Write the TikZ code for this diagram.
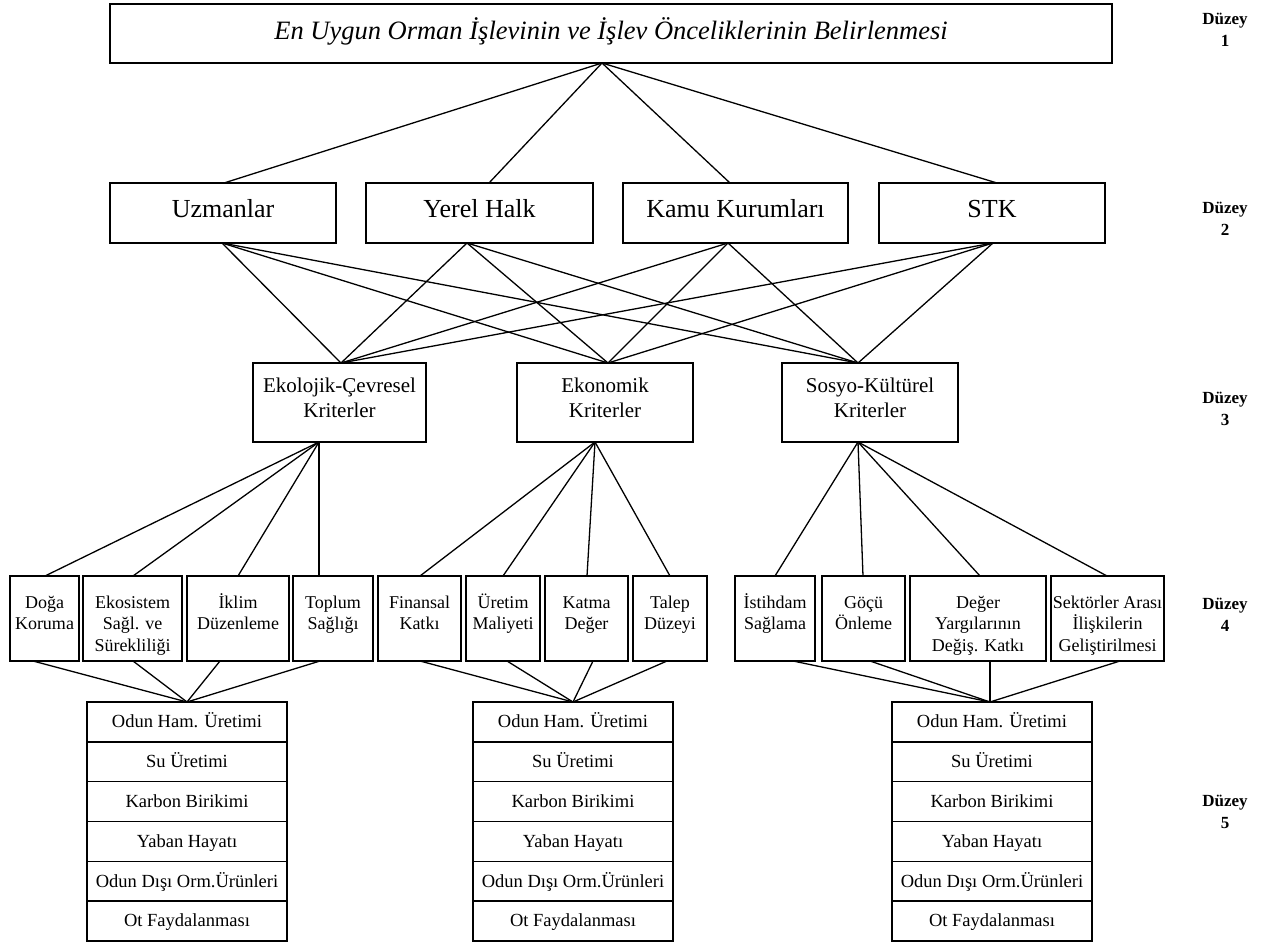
\documentclass[tikz,border=0pt]{standalone}
\usepackage{fontspec}
\setmainfont{Liberation Serif}
\newcommand{\mlines}[1]{\begin{tabular}[t]{@{}c@{}}#1\end{tabular}}
\begin{document}
\begin{tikzpicture}[x=1pt,y=-1pt,
  bx/.style={draw,line width=1.4pt,rectangle,inner sep=0pt,outer sep=0pt,anchor=north west},
  conn/.style={line width=1.3pt},
  ttl/.style={font=\fontsize{26.5}{30}\selectfont\itshape,text height=18pt,text depth=6pt},
  lvtwo/.style={anchor=base,inner sep=0pt,font=\fontsize{26}{30}\selectfont},
  lvthree/.style={anchor=base,inner sep=0pt,font=\fontsize{21}{25}\selectfont},
  lvfour/.style={anchor=base,inner sep=0pt,font=\fontsize{18}{21.5}\selectfont},
  row/.style={draw,line width=1.4pt,rectangle,inner sep=0pt,outer sep=0pt,anchor=north,
     minimum width=200pt,minimum height=39.8pt,text height=12pt,text depth=0pt,
     font=\fontsize{18.5}{21}\selectfont},
  lvl/.style={anchor=base,inner sep=0pt,font=\fontsize{17}{22}\selectfont\bfseries}]
\useasboundingbox (0,0) rectangle (1270,942);
% Level 1
\node[bx,minimum width=1002pt,minimum height=59pt] (top) at (110,4) {};
\node[ttl] (topt) at (611,33.5) {En Uygun Orman İşlevinin ve İşlev Önceliklerinin Belirlenmesi};
% Level 2
\node[bx,minimum width=226pt,minimum height=60pt] (uz) at (110,183) {};
\node[bx,minimum width=227pt,minimum height=60pt] (yh) at (366,183) {};
\node[bx,minimum width=225pt,minimum height=60pt] (kk) at (623,183) {};
\node[bx,minimum width=226pt,minimum height=60pt] (st) at (879,183) {};
\node[lvtwo] (uzt) at (223,217) {Uzmanlar};
\node[lvtwo] (yht) at (479.5,217) {Yerel Halk};
\node[lvtwo] (kkt) at (735.5,217) {Kamu Kurumları};
\node[lvtwo] (stt) at (992,217) {STK};
% Level 3
\node[bx,minimum width=173pt,minimum height=79pt] (ek) at (253,363) {};
\node[bx,minimum width=176pt,minimum height=79pt] (eo) at (517,363) {};
\node[bx,minimum width=176pt,minimum height=79pt] (so) at (782,363) {};
\node[lvthree] (ekt) at (339.5,392) {\mlines{Ekolojik-Çevresel\\Kriterler}};
\node[lvthree] (eot) at (605,392) {\mlines{Ekonomik\\Kriterler}};
\node[lvthree] (sot) at (870,392) {\mlines{Sosyo-Kültürel\\Kriterler}};
% Level 4
\node[bx,minimum width=69pt,minimum height=85pt] (d1) at (10,576) {};
\node[bx,minimum width=99pt,minimum height=85pt] (d2) at (83,576) {};
\node[bx,minimum width=102pt,minimum height=85pt] (d3) at (187,576) {};
\node[bx,minimum width=80pt,minimum height=85pt] (d4) at (293,576) {};
\node[bx,minimum width=83pt,minimum height=85pt] (d5) at (378,576) {};
\node[bx,minimum width=74pt,minimum height=85pt] (d6) at (466,576) {};
\node[bx,minimum width=83pt,minimum height=85pt] (d7) at (545,576) {};
\node[bx,minimum width=74pt,minimum height=85pt] (d8) at (633,576) {};
\node[bx,minimum width=80pt,minimum height=85pt] (d9) at (735,576) {};
\node[bx,minimum width=83pt,minimum height=85pt] (d10) at (822,576) {};
\node[bx,minimum width=136pt,minimum height=85pt] (d11) at (910,576) {};
\node[bx,minimum width=113pt,minimum height=85pt] (d12) at (1051,576) {};
\node[lvfour] (d1t) at (44.5,608) {\mlines{Doğa\\Koruma}};
\node[lvfour] (d2t) at (132.5,608) {\mlines{Ekosistem\\Sağl. ve\\Sürekliliği}};
\node[lvfour] (d3t) at (238,608) {\mlines{İklim\\Düzenleme}};
\node[lvfour] (d4t) at (333,608) {\mlines{Toplum\\Sağlığı}};
\node[lvfour] (d5t) at (419.5,608) {\mlines{Finansal\\Katkı}};
\node[lvfour] (d6t) at (503,608) {\mlines{Üretim\\Maliyeti}};
\node[lvfour] (d7t) at (586.5,608) {\mlines{Katma\\Değer}};
\node[lvfour] (d8t) at (670,608) {\mlines{Talep\\Düzeyi}};
\node[lvfour] (d9t) at (775,608) {\mlines{İstihdam\\Sağlama}};
\node[lvfour] (d10t) at (863.5,608) {\mlines{Göçü\\Önleme}};
\node[lvfour] (d11t) at (978,608) {\mlines{Değer\\Yargılarının\\Değiş. Katkı}};
\node[lvfour] (d12t) at (1107.5,608) {\mlines{Sektörler Arası\\İlişkilerin\\Geliştirilmesi}};
% Level 5
\foreach \g/\cx in {a/187,b/573,c/992}{
  \node[row] (\g1) at (\cx,702) {Odun Ham. Üretimi};
  \node[row] (\g2) at (\g1.south) {Su Üretimi};
  \node[row] (\g3) at (\g2.south) {Karbon Birikimi};
  \node[row] (\g4) at (\g3.south) {Yaban Hayatı};
  \node[row] (\g5) at (\g4.south) {Odun Dışı Orm.Ürünleri};
  \node[row] (\g6) at (\g5.south) {Ot Faydalanması};
}
% Level labels
\node[lvl] (z1) at (1225,25) {\mlines{Düzey\\1}};
\node[lvl] (z2) at (1225,213) {\mlines{Düzey\\2}};
\node[lvl] (z3) at (1225,403) {\mlines{Düzey\\3}};
\node[lvl] (z4) at (1225,609) {\mlines{Düzey\\4}};
\node[lvl] (z5) at (1225,806) {\mlines{Düzey\\5}};
% connection points
\coordinate (topS) at (602,63);
\coordinate (uzN) at (224,183); \coordinate (yhN) at (489,183);
\coordinate (kkN) at (730,183); \coordinate (stN) at (997,183);
\coordinate (uzS) at (222,243); \coordinate (yhS) at (467,243);
\coordinate (kkS) at (728,243); \coordinate (stS) at (993,243);
\coordinate (ekN) at (341,363); \coordinate (eoN) at (608,363); \coordinate (soN) at (858,363);
\coordinate (ekS) at (319,442); \coordinate (eoS) at (595,442); \coordinate (soS) at (858,442);
\coordinate (d1N) at (45,576); \coordinate (d2N) at (133,576); \coordinate (d3N) at (238,576); \coordinate (d4N) at (319,576);
\coordinate (d5N) at (420,576); \coordinate (d6N) at (503,576); \coordinate (d7N) at (587,576); \coordinate (d8N) at (670,576);
\coordinate (d9N) at (775,576); \coordinate (d10N) at (863,576); \coordinate (d11N) at (980,576); \coordinate (d12N) at (1107,576);
\coordinate (d1S) at (33,661); \coordinate (d2S) at (133,661); \coordinate (d3S) at (220,661); \coordinate (d4S) at (320,661);
\coordinate (d5S) at (420,661); \coordinate (d6S) at (507,661); \coordinate (d7S) at (593,661); \coordinate (d8S) at (667,661);
\coordinate (d9S) at (793,661); \coordinate (d10S) at (870,661); \coordinate (d11S) at (990,661); \coordinate (d12S) at (1120,661);
\coordinate (aN) at (187,702); \coordinate (bN) at (573,702); \coordinate (cN) at (990,702);
% connectors
\foreach \t in {uzN,yhN,kkN,stN}{\draw[conn] (topS) -- (\t);}
\foreach \s in {uzS,yhS,kkS,stS}{\foreach \t in {ekN,eoN,soN}{\draw[conn] (\s) -- (\t);}}
\foreach \t in {d1N,d2N,d3N,d4N}{\draw[conn] (ekS) -- (\t);}
\foreach \t in {d5N,d6N,d7N,d8N}{\draw[conn] (eoS) -- (\t);}
\foreach \t in {d9N,d10N,d11N,d12N}{\draw[conn] (soS) -- (\t);}
\foreach \s in {d1S,d2S,d3S,d4S}{\draw[conn] (\s) -- (aN);}
\foreach \s in {d5S,d6S,d7S,d8S}{\draw[conn] (\s) -- (bN);}
\foreach \s in {d9S,d10S,d11S,d12S}{\draw[conn] (\s) -- (cN);}
\end{tikzpicture}
\end{document}
